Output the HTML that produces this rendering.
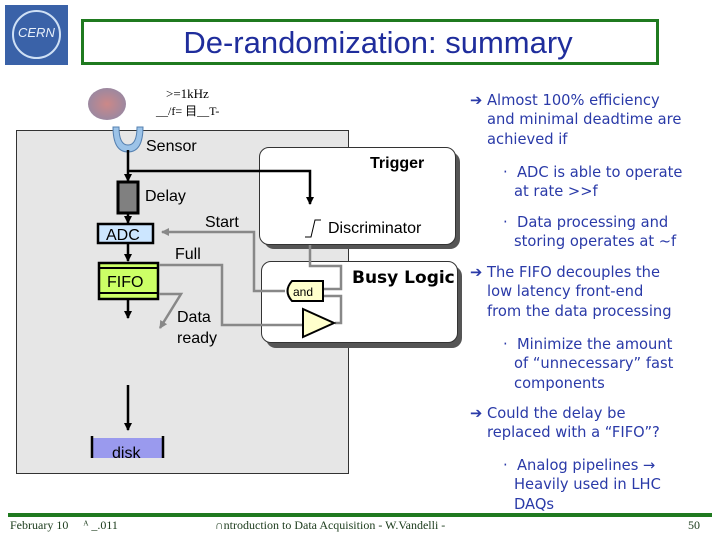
<!DOCTYPE html>
<html><head><style>
body{margin:0;width:720px;height:540px;background:#fff;position:relative;overflow:hidden;font-family:"Liberation Sans",sans-serif}
.a{position:absolute}
.r{color:#2a3aa8;font-family:"DejaVu Sans",sans-serif;font-size:14.7px;line-height:19.5px;position:absolute;white-space:nowrap}
</style></head><body>
<div class="a" style="left:5px;top:5px;width:63px;height:60px;background:#3a62a8"></div>
<div class="a" style="left:12px;top:10px;width:45px;height:45px;border:2px solid #cfe0f5;border-radius:50%"></div>
<div class="a" style="left:18px;top:25px;color:#e8f0fa;font-size:13px;font-style:italic">CERN</div>
<div class="a" style="left:81px;top:19px;width:572px;height:40px;border:3px solid #1f7a1f;text-align:center;color:#1f2d9c;font-size:31px;line-height:42px;padding-left:16px;box-sizing:content-box;width:556px">De-randomization: summary</div>

<div class="a" style="left:16px;top:130px;width:331px;height:342px;background:#e6e6e6;border:1px solid #333"></div>
<div class="a" style="left:88px;top:88px;width:38px;height:32px;border-radius:50%;background:radial-gradient(#c88,#88a)"></div>
<div class="a" style="left:166px;top:86px;font-family:'Liberation Serif',serif;font-size:13px">&gt;=1kHz</div>
<div class="a" style="left:156px;top:102px;font-family:'Liberation Serif',serif;font-size:12px">__/f= 目__T-</div>
<div class="a" style="left:146px;top:138px;font-size:16px">Sensor</div>
<div class="a" style="left:145px;top:188px;font-size:16px">Delay</div>
<div class="a" style="left:205px;top:214px;font-size:16px">Start</div>
<div class="a" style="left:175px;top:246px;font-size:16px">Full</div>
<div class="a" style="left:177px;top:307px;font-size:16px;line-height:21px">Data<br>ready</div>

<div class="a" style="left:264px;top:152px;width:196px;height:97px;background:#555;border-radius:10px"></div>
<div class="a" style="left:259px;top:147px;width:195px;height:96px;background:#fff;border:1px solid #333;border-radius:10px"></div>
<div class="a" style="left:370px;top:155px;font-size:16px;font-weight:bold">Trigger</div>
<div class="a" style="left:328px;top:220px;font-size:16px">Discriminator</div>
<div class="a" style="left:266px;top:266px;width:196px;height:82px;background:#555;border-radius:10px"></div>
<div class="a" style="left:261px;top:261px;width:195px;height:80px;background:#fff;border:1px solid #333;border-radius:10px"></div>
<div class="a" style="left:352px;top:268px;font-size:17px;font-weight:bold;font-family:'DejaVu Sans',sans-serif">Busy Logic</div>

<svg class="a" style="left:0;top:0" width="720" height="540">
<defs><marker id="k" markerWidth="8" markerHeight="8" refX="7" refY="4" orient="auto" markerUnits="userSpaceOnUse"><path d="M0,0L8,4L0,8z"/></marker>
<marker id="g" markerWidth="8" markerHeight="8" refX="7" refY="4" orient="auto" markerUnits="userSpaceOnUse"><path d="M0,0L8,4L0,8z" fill="#888"/></marker></defs>
<path d="M113,127 Q113,152 128,152 Q143,152 143,127 L137,127 Q137,145 128,145 Q119,145 119,127z" fill="#9cc3e8" stroke="#5580b0"/>
<g stroke="#000" stroke-width="2.5" fill="none">
<line x1="128" y1="150" x2="128" y2="181" marker-end="url(#k)"/>
<polyline points="128,171 310,171 310,204" marker-end="url(#k)"/>
<line x1="128" y1="213" x2="128" y2="223" marker-end="url(#k)"/>
<line x1="128" y1="244" x2="128" y2="261" marker-end="url(#k)"/>
<line x1="128" y1="300" x2="128" y2="318" marker-end="url(#k)"/>
<line x1="128" y1="385" x2="128" y2="430" marker-end="url(#k)"/>
</g>
<path d="M305,237 L311,237 L315,220 L321,220" stroke="#000" fill="none"/>
<rect x="118" y="182" width="20" height="31" fill="#808080" stroke="#000" stroke-width="3"/>
<rect x="98" y="224" width="55" height="19" fill="#cce6ff" stroke="#000" stroke-width="2.5"/>
<text x="106" y="240" font-size="16" font-family="Liberation Sans">ADC</text>
<rect x="99" y="263" width="59" height="36" fill="#ccff66" stroke="#000" stroke-width="2.5"/>
<line x1="99" y1="268" x2="158" y2="268" stroke="#000" stroke-width="2"/>
<line x1="99" y1="293" x2="158" y2="293" stroke="#000" stroke-width="2"/>
<text x="107" y="287" font-size="16" font-family="Liberation Sans">FIFO</text>
<g stroke="#888" stroke-width="2.5" fill="none">
<polyline points="310,245 310,266 341,266 341,289 323,289"/>
<polyline points="285,291 254,291 254,232 162,232" marker-end="url(#g)"/>
<polyline points="159,265 222,265 222,325 302,325"/>
<polyline points="335,323 341,323 341,296 323,296"/>
<polyline points="159,294 181,294 160,328" marker-end="url(#g)"/>
</g>
<path d="M292,281 L323,281 L323,301 L292,301 Q283,291 292,281z" fill="#ffffcc" stroke="#000" stroke-width="2"/>
<text x="293" y="296" font-size="12" font-family="Liberation Sans">and</text>
<path d="M303,309 L334,323 L303,337z" fill="#ffffcc" stroke="#000" stroke-width="2"/>
<rect x="91" y="438" width="72" height="20" fill="#9a9aee"/>
<line x1="92" y1="436" x2="92" y2="458" stroke="#000" stroke-width="2.5"/>
<line x1="163" y1="436" x2="163" y2="458" stroke="#000" stroke-width="2.5"/>
<line x1="8" y1="515" x2="712" y2="515" stroke="#1f7a1f" stroke-width="4"/>
</svg>
<div class="a" style="left:112px;top:445px;font-size:16px">disk</div>

<div class="r" style="left:470px;top:91px">➔ Almost 100% efficiency</div>
<div class="r" style="left:487px;top:110px">and minimal deadtime are<br>achieved if</div>
<div class="r" style="left:503px;top:163px">·&nbsp; ADC is able to operate</div>
<div class="r" style="left:514px;top:182px">at rate &gt;&gt;f</div>
<div class="r" style="left:503px;top:213px">·&nbsp; Data processing and</div>
<div class="r" style="left:514px;top:232px">storing operates at ~f</div>
<div class="r" style="left:470px;top:263px">➔ The FIFO decouples the</div>
<div class="r" style="left:487px;top:282px">low latency front-end<br>from the data processing</div>
<div class="r" style="left:503px;top:335px">·&nbsp; Minimize the amount</div>
<div class="r" style="left:514px;top:354px">of “unnecessary” fast<br>components</div>
<div class="r" style="left:470px;top:404px">➔ Could the delay be</div>
<div class="r" style="left:487px;top:423px">replaced with a “FIFO”?</div>
<div class="r" style="left:503px;top:456px">·&nbsp; Analog pipelines →</div>
<div class="r" style="left:514px;top:475px">Heavily used in LHC<br>DAQs</div>

<div class="a" style="left:10px;top:518px;font-family:'Liberation Serif',serif;font-size:12px;color:#1a3a1a">February 10 &nbsp;&nbsp;&nbsp; ᴬ _.011</div>
<div class="a" style="left:215px;top:518px;font-family:'Liberation Serif',serif;font-size:12px;color:#1a3a1a">∩ntroduction to Data Acquisition - W.Vandelli -</div>
<div class="a" style="left:688px;top:518px;font-family:'Liberation Serif',serif;font-size:12px;color:#1a3a1a">50</div>
</body></html>
